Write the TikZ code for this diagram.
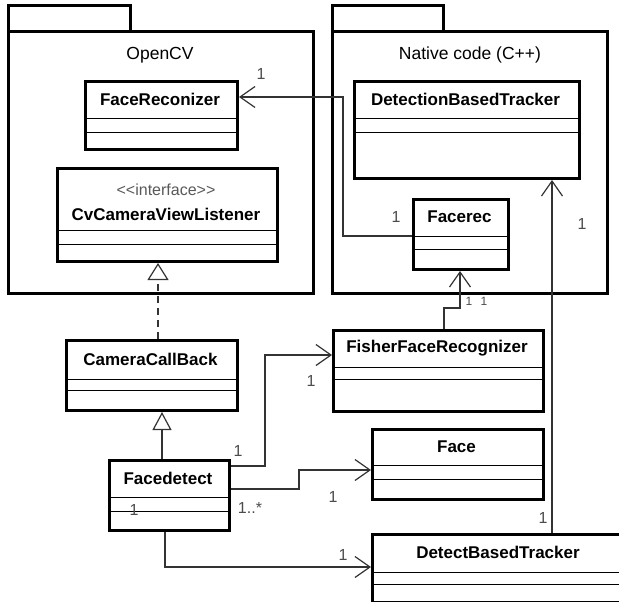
\documentclass[tikz,border=0pt]{standalone}
\usepackage{fontspec}
\setmainfont{Liberation Sans}
\usetikzlibrary{arrows.meta,calc}

\newcommand{\UMLbox}[8]{%
  \node[box, minimum width={#4-#2}, minimum height={#5-#3}] (#1) at (#2,#3) {};
  \draw[comp] (#2,#6) -- (#4,#6);
  \draw[comp] (#2,#7) -- (#4,#7);
  \node[clsname] (#1-name) at ({(#2+#4)/2},{(#3+#6)/2}) {#8};
}

\begin{document}
\begin{tikzpicture}[x=1pt,y=-1pt,
  box/.style={draw=black, line width=3pt, fill=white, inner sep=0pt, anchor=north west},
  comp/.style={draw=black, line width=1pt},
  clsname/.style={font=\fontsize{17}{20}\selectfont\bfseries, inner sep=0pt},
  pkg/.style={draw=black, line width=3pt},
  pkgname/.style={font=\fontsize{17.5}{20}\selectfont, inner sep=0pt},
  stereo/.style={font=\fontsize{16}{18}\selectfont, text=black!65, inner sep=0pt},
  mult/.style={font=\fontsize{16}{18}\selectfont, text=black!70, inner sep=0pt},
  smallmult/.style={font=\fontsize{12}{13}\selectfont, text=black!70, inner sep=0pt},
  conn/.style={draw=black!80, line width=1.2pt},
  assoc/.style={conn, -{Straight Barb[length=15pt, width=21pt, line width=1.2pt]}},
  real/.style={conn, dash pattern=on 7pt off 5pt, -{Triangle[open, length=17pt, width=21pt, line width=1.2pt, fill=white]}},
  gen/.style={conn, -{Triangle[open, length=18pt, width=19pt, line width=1.2pt, fill=white]}}
]
\useasboundingbox (0,0) rectangle (619,602);
\fill[white] (0,0) rectangle (619,602);

% packages
\draw[pkg] (8,32) rectangle (130,6);
\draw[pkg] (8,32) rectangle (313,293);
\node[pkgname] (opencv) at (160,55) {OpenCV};
\draw[pkg] (332,32) rectangle (443,6);
\draw[pkg] (332,32) rectangle (607,293);
\node[pkgname] (native) at (470,55) {Native code (C++)};

% classes
\UMLbox{fr}{84}{80}{236}{148}{118}{132}{FaceReconizer}
\node[box, minimum width=220, minimum height=93] (cv) at (56,167) {};
\draw[comp] (56,230) -- (276,230);
\draw[comp] (56,244) -- (276,244);
\node[stereo] (cv-st) at (166,190) {<{}<interface>{}>};
\node[clsname] (cv-name) at (166,214) {CvCameraViewListener};
\UMLbox{dbt}{353}{80}{578}{177}{118}{132}{DetectionBasedTracker}
\UMLbox{frec}{412}{198}{507}{268}{236}{249}{Facerec}
\UMLbox{ccb}{65}{339}{236}{409}{379}{390}{CameraCallBack}
\UMLbox{ffr}{332}{329}{542}{410}{367}{379}{FisherFaceRecognizer}
\UMLbox{fd}{108}{459}{228}{529}{497}{511}{Facedetect}
\UMLbox{face}{371}{428}{542}{498}{465}{479}{Face}
\UMLbox{dbt2}{371}{533}{625}{601}{572}{584}{DetectBasedTracker}

% connectors
\draw[assoc] (frec.west |- 0,236) -- (343,236) -- (343,97) -- (fr.east |- 0,97);
\draw[assoc] (444,0 |- ffr.north) -- (444,308) -- (460,308) -- (460,0 |- frec.south);
\draw[assoc] (552,0 |- dbt2.north) -- (552,0 |- dbt.south);
\draw[real] (158,0 |- ccb.north) -- (158,0 |- cv.south);
\draw[gen] (162,0 |- fd.north) -- (162,0 |- ccb.south);
\draw[assoc] (fd.east |- 0,466) -- (265,466) -- (265,355) -- (ffr.west |- 0,355);
\draw[assoc] (fd.east |- 0,489) -- (299,489) -- (299,470) -- (face.west |- 0,470);
\draw[assoc] (165,0 |- fd.south) -- (165,567) -- (dbt2.west |- 0,567);

% multiplicities
\node[mult] (m1) at (261,74) {1};
\node[mult] (m2) at (396,217) {1};
\node[mult] (m3) at (582,224) {1};
\node[smallmult] (m4) at (469,301) {1};
\node[smallmult] (m5) at (484,301) {1};
\node[mult] (m6) at (238,451) {1};
\node[mult] (m7) at (311,381) {1};
\node[mult] (m8) at (250,508) {1..*};
\node[mult] (m9) at (333,497) {1};
\node[mult] (m10) at (134,510) {1};
\node[mult] (m11) at (343,555) {1};
\node[mult] (m12) at (543,518) {1};
\end{tikzpicture}
\end{document}
